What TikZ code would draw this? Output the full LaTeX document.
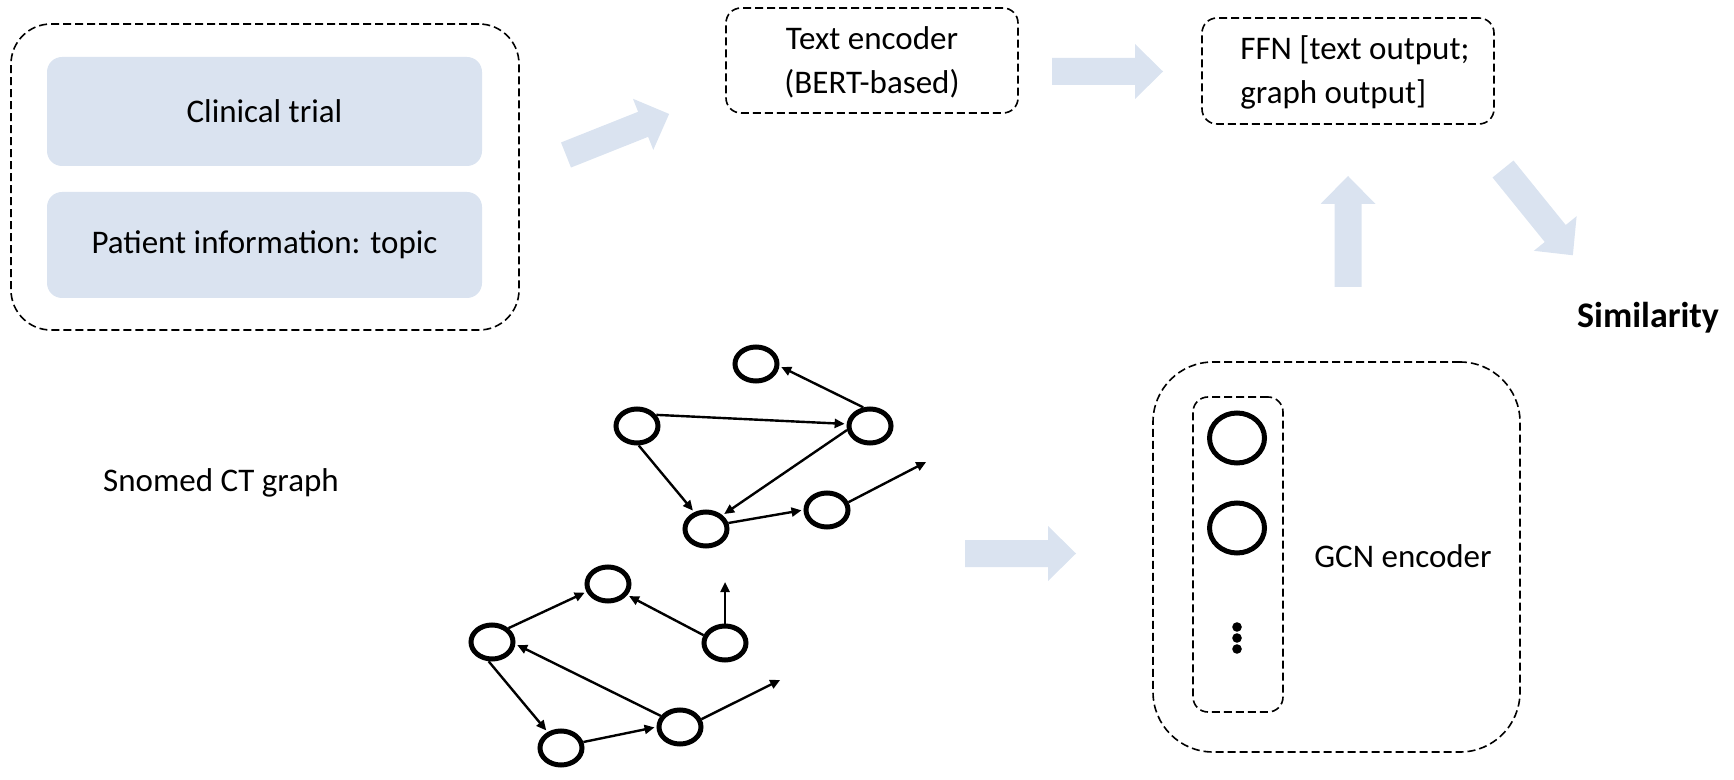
\documentclass[tikz,border=0pt]{standalone}
\usepackage{fontspec}
\setmainfont{Carlito}
\usetikzlibrary{shapes.geometric,arrows.meta}
\definecolor{boxfill}{HTML}{DAE3F0}
\tikzset{
  dbox/.style={draw, dashed, dash pattern=on 4pt off 2pt, line width=0.8pt, inner sep=0pt},
  fillbox/.style={fill=boxfill, rounded corners=7.5pt, inner sep=0pt, minimum width=217.5pt},
  lbl/.style={font=\fontsize{16.5}{20}\selectfont, inner sep=0pt},
  gnode/.style={draw, ellipse, line width=2.5pt, inner sep=0pt, minimum width=21pt, minimum height=17pt},
  cnode/.style={draw, ellipse, line width=2.5pt, inner sep=0pt, minimum width=27.5pt, minimum height=25pt},
  gedge/.style={line width=1.2pt, -{Triangle[length=5pt,width=4.5pt]}, shorten >=1pt},
  fatarrow/.pic={\fill[boxfill] (0,-13.5) -- (83,-13.5) -- (83,-27.5) -- (111,0) -- (83,27.5) -- (83,13.5) -- (0,13.5) -- cycle;}
}
\begin{document}
\begin{tikzpicture}[x=0.5pt,y=-0.5pt]
\useasboundingbox (0,0) rectangle (1734,780);

% left input box
\node[dbox, rounded corners=20pt, minimum width=254pt, minimum height=153pt] (inbox) at (265,177) {};
\node[fillbox, minimum height=54.5pt] (trial) at (264.5,111.5) {};
\node[lbl] at (trial) {Clinical trial};
\node[fillbox, minimum height=53pt] (patient) at (264.5,245) {};
\node[lbl] at (patient) {Patient information: topic};

% text encoder
\node[dbox, rounded corners=7.5pt, minimum width=146pt, minimum height=52.5pt] (tenc) at (872,60.5) {};
\node[lbl, align=center, font=\fontsize{16.5}{22}\selectfont] at (872,62) {Text encoder\\(BERT-based)};

% FFN
\node[dbox, rounded corners=7.5pt, minimum width=146pt, minimum height=53pt] (ffn) at (1348,71) {};
\node[lbl, align=left, anchor=west, font=\fontsize{16.5}{22}\selectfont] at (1240,72) {FFN [text output;\\graph output]};

% similarity
\node[lbl, font=\bfseries\fontsize{18}{20}\selectfont] (sim) at (1648,318) {Similarity};

% snomed label
\node[lbl] (snomed) at (221,483) {Snomed CT graph};

% GCN encoder
\node[dbox, rounded corners=30pt, minimum width=183.5pt, minimum height=195pt] (gcn) at (1336.5,557) {};
\node[dbox, rounded corners=7.5pt, minimum width=45pt, minimum height=157.5pt] (layer) at (1238,554.5) {};
\node[cnode] (c1) at (1237,438) {};
\node[cnode] (c2) at (1237,528) {};
\fill (1237,627) circle (2.4pt) (1237,638) circle (2.4pt) (1237,649) circle (2.4pt);
\node[lbl] (gcnlbl) at (1403,556) {GCN encoder};

% fat arrows
\pic[rotate=21.7] at (566,155) {fatarrow};
\pic at (1052,71.5) {fatarrow};
\pic[rotate=90] at (1348,287) {fatarrow};
\pic[rotate=-51] at (1503,169) {fatarrow};
\pic at (965,553.5) {fatarrow};

% top graph
\node[gnode] (A) at (756,364) {};
\node[gnode] (B) at (637,426) {};
\node[gnode] (C) at (870,426) {};
\node[gnode] (D) at (706,529) {};
\node[gnode] (E) at (827,510) {};
\coordinate (Eo) at (928,461);
\draw[gedge] (C.110) -- (A.-5);
\draw[gedge] (B.30) -- (C.175);
\draw[gedge] (B.-85) -- (D.125);
\draw[gedge] (C.190) -- (D.40);
\draw[gedge] (D.15) -- (E.180);
\draw[gedge] (E.20) -- (Eo);

% bottom graph
\node[gnode] (F) at (608,584) {};
\node[gnode] (G) at (492,642) {};
\node[gnode] (H) at (725,643) {};
\node[gnode] (I) at (561,748) {};
\node[gnode] (J) at (680,727) {};
\coordinate (Ho) at (725,580);
\coordinate (Jo) at (782,679);
\draw[gedge] (G.40) -- (F.200);
\draw[gedge] (H.160) -- (F.-30);
\draw[gedge] (H.north) -- (Ho);
\draw[gedge] (J.150) -- (G.-5);
\draw[gedge] (G.-100) -- (I.130);
\draw[gedge] (I.15) -- (J.180);
\draw[gedge] (J.20) -- (Jo);
\end{tikzpicture}
\end{document}
